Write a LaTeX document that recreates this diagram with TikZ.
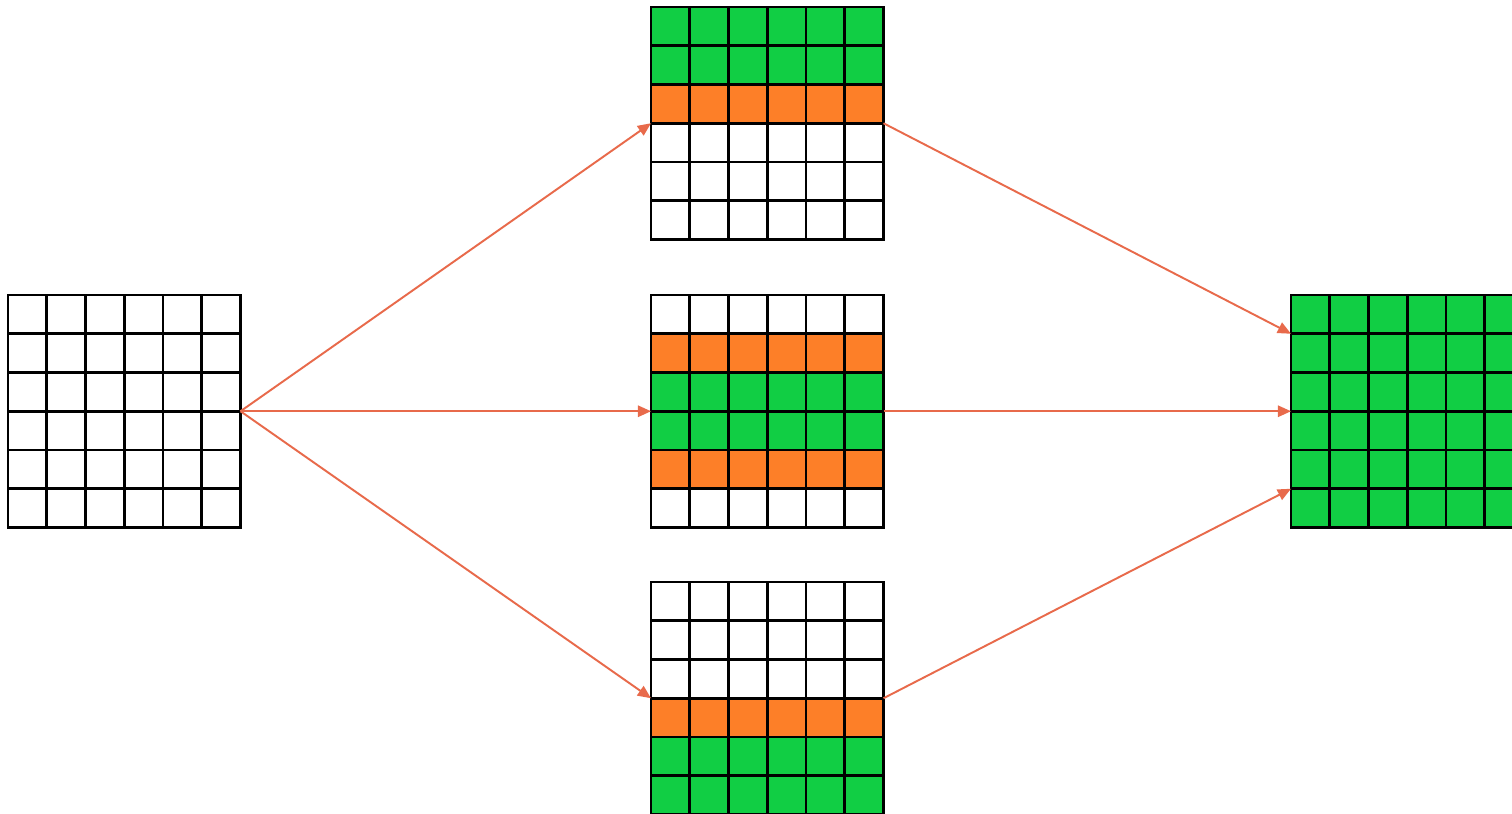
\documentclass[tikz,border=0pt]{standalone}
\usetikzlibrary{arrows.meta}
\definecolor{cellgreen}{HTML}{11CE44}
\definecolor{cellorange}{HTML}{FD7F28}
\definecolor{flowred}{HTML}{E86A4B}
\tikzset{
  cell/.style={draw=black, line width=1.6pt},
  flow/.style={draw=flowred, line width=1.1pt, -{Triangle[length=7.5pt,width=6.5pt]}},
}
% grid of 6x6 cells: name, left x, top y, row colours from top
\newcommand{\cellgrid}[4]{%
  \foreach \col [count=\r from 0] in {#4} {
    \foreach \k in {0,...,5}
      \filldraw[cell, fill=\col] ({#2+\k*38.75},{#3+\r*38.75}) rectangle ++(38.75,38.75);
  }
  \foreach \r in {0,...,6} {
    \coordinate (#1-w\r) at (#2,{#3+\r*38.75});
    \coordinate (#1-e\r) at ({#2+232.5},{#3+\r*38.75});
  }
}
\begin{document}
\begin{tikzpicture}[x=0.02cm, y=-0.02cm]
\clip (0,0) rectangle (1512,814);
\fill[white] (0,0) rectangle (1512,814);

\cellgrid{start}{8}{295}{white,white,white,white,white,white}
\cellgrid{upper}{651}{7}{cellgreen,cellgreen,cellorange,white,white,white}
\cellgrid{mid}{651}{295}{white,cellorange,cellgreen,cellgreen,cellorange,white}
\cellgrid{lower}{651}{582}{white,white,white,cellorange,cellgreen,cellgreen}
\cellgrid{final}{1291}{295}{cellgreen,cellgreen,cellgreen,cellgreen,cellgreen,cellgreen}

\draw[flow] (start-e3) -- (upper-w3);
\draw[flow] (start-e3) -- (mid-w3);
\draw[flow] (start-e3) -- (lower-w3);
\draw[flow] (upper-e3) -- (final-w1);
\draw[flow] (mid-e3) -- (final-w3);
\draw[flow] (lower-e3) -- (final-w5);
\end{tikzpicture}
\end{document}
